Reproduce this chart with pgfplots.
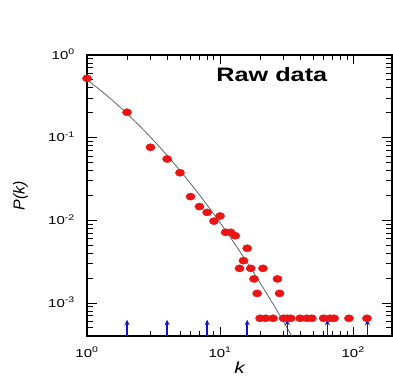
\documentclass[border=0pt]{standalone}
\usepackage{fontspec}
\setmainfont{Liberation Sans}[FakeStretch=1.3]
\newfontfamily\plainsans{Liberation Sans}
\usepackage{pgfplots}
\pgfplotsset{compat=1.18}
\usetikzlibrary{arrows.meta}
\definecolor{ptred}{RGB}{235,20,20}
\definecolor{arrblue}{RGB}{20,20,200}
\definecolor{fitgray}{RGB}{100,100,100}

\pgfplotstableread{
k P
1 0.523
2 0.203
3 0.0766
4 0.0553
5 0.0377
6 0.0194
7 0.0147
8 0.0125
9 0.0098
10 0.0113
11 0.00718
12 0.00718
13 0.00653
14 0.00263
15 0.00326
16 0.0046
17 0.00263
18 0.00196
19 0.00131
20 0.000655
21 0.00263
22 0.000655
25 0.000655
27 0.00196
28 0.00131
30 0.000655
32 0.000655
34 0.000655
40 0.000655
45 0.000655
49 0.000655
60 0.000655
67 0.000655
72 0.000655
93 0.000655
127 0.000655
}\rawdata

\pgfplotstableread{
k P
1 0.501
1.259 0.3756
1.585 0.2748
1.995 0.1961
2.512 0.1366
3.162 0.0929
3.981 0.0616
5.012 0.03993
6.310 0.02523
7.943 0.01557
10 0.009376
12.59 0.005509
15.85 0.003160
19.95 0.001769
25.12 0.000966
31.62 0.000515
34.6 0.0004
}\fitdata

\begin{document}
\begin{tikzpicture}
\begin{axis}[
  xmode=log, ymode=log,
  scale only axis, width=305bp, height=281bp,
  xmin=1, xmax=196, ymin=4e-4, ymax=1,
  axis line style={line width=1.1bp, black},
  tick style={draw=none},
  xtick={1,10,100}, ytick={1e-3,1e-2,1e-1,1},
  minor xtick={}, minor ytick={},
  xticklabels={10\textsuperscript{0},10\textsuperscript{1},10\textsuperscript{2}},
  yticklabels={10\textsuperscript{-3},10\textsuperscript{-2},10\textsuperscript{-1},10\textsuperscript{0}},
  tick label style={font=\fontsize{11.6}{13}\selectfont},
  xticklabel style={anchor=base, yshift=-21bp},
  yticklabel style={anchor=base east, inner sep=0pt, xshift=-12bp, yshift=-4.2bp},
  xlabel={\itshape k},
  ylabel={\plainsans\itshape P(k)},
  every axis x label/.style={at={(axis description cs:0.5,-0.114)}, anchor=center, font=\fontsize{16}{18}\selectfont},
  every axis y label/.style={at={(axis description cs:-0.218,0.5)}, rotate=90, anchor=center, font=\fontsize{16}{18}\selectfont},
]
% tick marks drawn as short two-point plots (inside, all four sides)
\pgfplotsinvokeforeach{10,100}{
  \addplot[black, line width=1bp, forget plot] coordinates {(#1,4e-4) (#1,5.14e-4)};
  \addplot[black, line width=1bp, forget plot] coordinates {(#1,1) (#1,0.778)};
}
\pgfplotsinvokeforeach{2,3,4,5,6,7,8,9,20,30,40,50,60,70,80,90}{
  \addplot[black, line width=1bp, forget plot] coordinates {(#1,4e-4) (#1,4.6e-4)};
  \addplot[black, line width=1bp, forget plot] coordinates {(#1,1) (#1,0.870)};
}
\pgfplotsinvokeforeach{0.001,0.01,0.1}{
  \addplot[black, line width=1bp, forget plot] coordinates {(1,#1) (1.189,#1)};
  \addplot[black, line width=1bp, forget plot] coordinates {(196,#1) (164.8,#1)};
}
\pgfplotsinvokeforeach{5e-4,6e-4,7e-4,8e-4,9e-4,0.002,0.003,0.004,0.005,0.006,0.007,0.008,0.009,0.02,0.03,0.04,0.05,0.06,0.07,0.08,0.09,0.2,0.3,0.4,0.5,0.6,0.7,0.8,0.9}{
  \addplot[black, line width=1bp, forget plot] coordinates {(1,#1) (1.1,#1)};
  \addplot[black, line width=1bp, forget plot] coordinates {(196,#1) (178.2,#1)};
}
\addplot[only marks, mark=*, color=ptred, mark size=3.6bp, mark options={xscale=1.28}] table[x=k, y=P] {\rawdata};
\addplot[smooth, color=fitgray, line width=0.8bp] table[x=k, y=P] {\fitdata};
\pgfplotsinvokeforeach{2,4,8,16,32,64,128}{
  \addplot[color=arrblue, line width=1.5bp, -{Stealth[length=5.5bp,width=5bp]}] coordinates {(#1,4e-4) (#1,6.3e-4)};
}
\node[font=\bfseries\fontsize{19.5}{22}\selectfont, anchor=center] at (rel axis cs:0.606,0.932) {Raw data};
\end{axis}
\path (-87bp,-40bp) (306bp,336bp);
\end{tikzpicture}
\end{document}
